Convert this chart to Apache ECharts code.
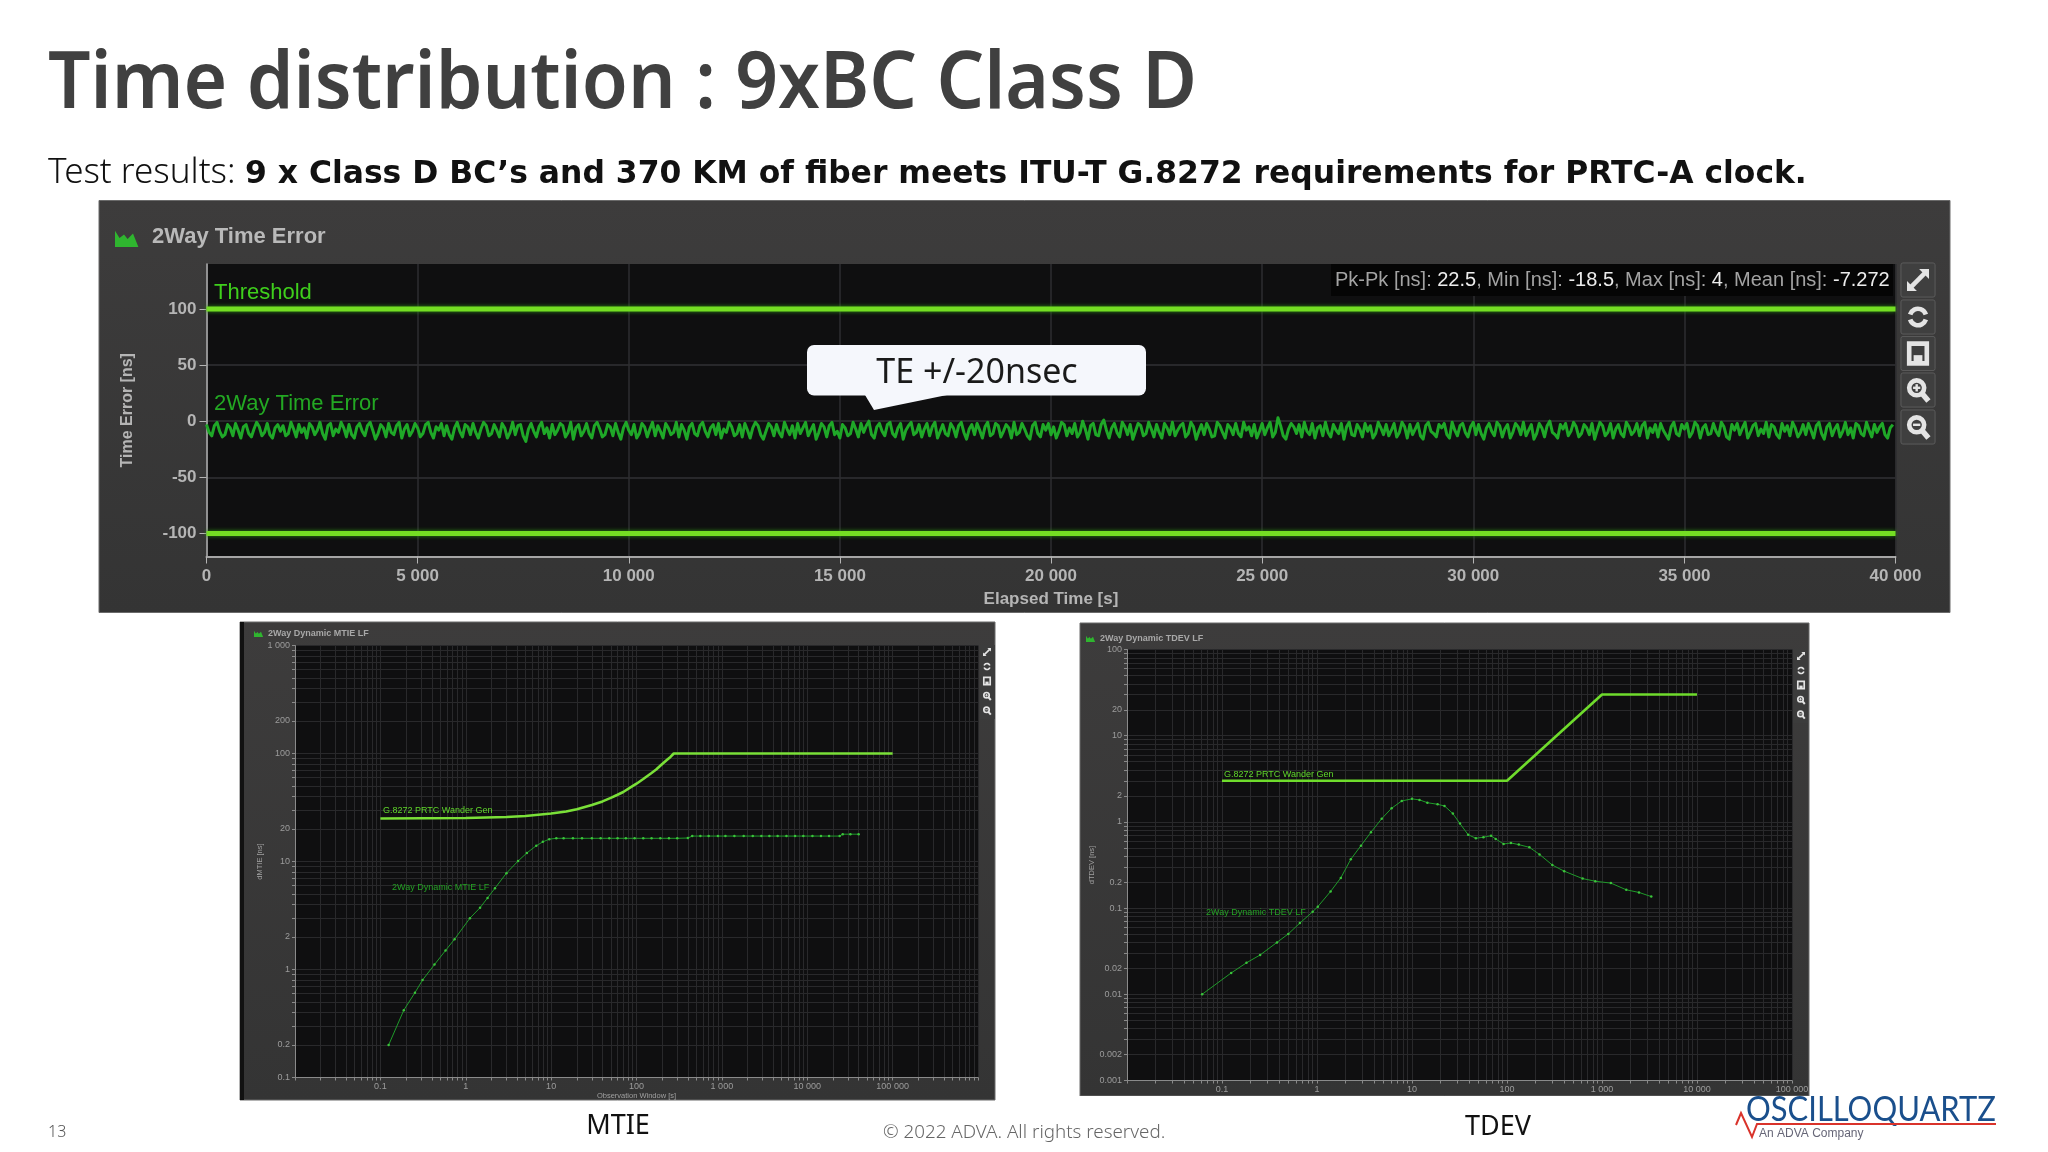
<!DOCTYPE html>
<html>
<head>
<meta charset="UTF-8">
<title>Time distribution : 9xBC Class D</title>
<script src="https://cdn.jsdelivr.net/npm/echarts@6/dist/echarts.min.js"></script>
<style>
html, body { margin: 0; padding: 0; background: #fff; }
#main { width: 2048px; height: 1152px; }
</style>
</head>
<body>
<div id="main"></div>
<script>
// 2Way Time Error, one value every 62.5 s
var teStep = 62.5;
var teValues = [
-3,-10,-13,-4,-1,-9,-14,-12,-3,-6,-13,-2,-8,-15,-5,-3,-11,-14,-7,-1,-5,-13,-10,-2,-12,-15,-6,-3,-9,-4,-13,-11,-1,-7,-14,-3,-10,-6,-15,-2,
-5,-12,-8,-1,-11,-16,-4,-2,-13,-7,-10,-1,-6,-14,-3,-12,-15,-5,-2,-9,-13,-4,-1,-8,-16,-11,-3,-6,-14,-2,-10,-12,-4,-1,-15,-7,-3,-13,-9,-2,
-6,-14,-11,-3,-1,-10,-15,-5,-8,-2,-13,-4,-12,-16,-6,-1,-9,-14,-3,-5,-12,-2,-10,-15,-7,-1,-4,-13,-11,-3,-8,-14,-2,-6,-15,-10,-1,-12,-4,-3,
-13,-18,-7,-2,-9,-14,-5,-1,-11,-6,-15,-3,-12,-8,-2,-4,-14,-10,-1,-16,-6,-3,-13,-9,-2,-11,-15,-4,-1,-7,-14,-12,-3,-5,-13,-2,-10,-16,-6,-1,
-8,-12,-3,-15,-11,-2,-5,-14,-7,-1,-13,-4,-9,-15,-2,-6,-12,-10,-1,-14,-3,-8,-16,-5,-2,-11,-13,-4,-1,-9,-14,-6,-3,-12,-2,-15,-7,-10,-1,-5,
-13,-11,-3,-14,-2,-8,-15,-6,-1,-4,-12,-16,-9,-2,-5,-13,-3,-10,-14,-1,-7,-12,-4,-15,-2,-11,-6,-1,-13,-8,-3,-16,-10,-2,-5,-14,-4,-1,-12,-9,
-15,-3,-6,-13,-11,-1,-7,-14,-2,-10,-4,0,-12,-15,-5,-2,-9,-13,-3,-1,-11,-14,-6,-2,-16,-8,-4,-1,-12,-10,-3,-14,-7,-2,-13,-5,-1,-15,-9,-3,
-11,-13,-2,-6,-14,-4,-1,-10,-16,-7,-3,-12,-2,-8,-15,-5,-1,-13,-11,-2,-4,-14,-9,-3,-6,-15,-1,-12,-10,-2,-7,-13,-16,-4,-1,-11,-14,-3,-8,-2,
-12,-5,-15,-9,-1,-3,-13,-6,-11,-2,-14,-10,0,-7,-16,-4,-2,-12,-13,-3,1,-8,-15,-6,-2,-10,-14,-1,-5,-12,-3,-16,-9,-2,-4,-13,-11,-1,-7,-14,
-3,-10,-15,-2,-6,-12,-1,-13,-8,-4,-2,-14,-11,-1,-5,-16,-9,-3,-12,-2,-7,-14,-13,-1,-4,-10,-15,-3,-6,-12,-2,-11,-14,-1,-8,-5,-13,-3,-15,-9,
-2,-12,-6,-1,-14,-10,3,-4,-13,-16,-7,-2,-5,-11,-3,-14,-1,-9,-12,-2,-15,-6,-4,-13,-1,-10,-14,-3,-8,-11,-2,-16,-5,-1,-12,-13,-3,-7,-14,-2,
-9,-4,-15,-11,-1,-6,-12,-3,-13,-8,-2,-14,-10,-1,-5,-15,-3,-12,-7,-2,-13,-16,-4,-1,-9,-11,-14,-3,-6,-2,-12,-15,-1,-8,-13,-4,-2,-10,-14,-5,
-1,-12,-3,-11,-16,-6,-2,-9,-13,-1,-4,-14,-7,-3,-15,-10,-2,-5,-12,-1,-13,-8,-3,-16,-11,-2,-6,-14,-4,0,-10,-12,-15,-3,-7,-2,-13,-9,-1,-5,
-14,-11,-3,-6,-12,-2,-16,-8,-1,-4,-13,-10,-2,-15,-7,-3,-11,-14,-1,-5,-12,-9,-2,-13,-4,-1,-15,-6,-10,-3,-14,-2,-8,-12,-16,-5,-1,-11,-13,-3,
-7,-2,-14,-10,-1,-4,-15,-6,-3,-12,-11,-2,-9,-13,-1,-5,-14,-16,-3,-8,-2,-12,-6,-1,-15,-10,-4,-2,-13,-7,-11,-1,-14,-3,-5,-12,-15,-2,-9,-4,
-13,-1,-6,-14,-10,-3,-12,-2,-8,-15,-4,-1,-11,-16,-5,-2,-13,-7,-3,-14,-9,-1,-12,-6,-15,-2,-4,-11,-13,-1,-8,-14,-3,-10,-5,-2,-12,-15,-6,-3
];
var teUpper = [[0, 100], [40000, 100]];
var teLower = [[0, -100], [40000, -100]];
var teValueLabels = [-100, -50, 0, 50, 100];

// MTIE, [observation window, ns]
var mtieMask = [[0.1, 25], [1, 25.3], [3, 25.8], [5, 26.4], [10, 27.8], [15, 29], [20, 30.5], [30, 33.3], [40, 36], [50, 38.8], [60, 41.5], [70, 44], [85, 48.5], [100, 52.5], [120, 58], [150, 66], [170, 71], [200, 80], [230, 88], [250, 93], [273, 100], [100000, 100]];
var mtieMeasured = [[0.125, 0.2], [0.188, 0.42], [0.254, 0.61], [0.312, 0.8], [0.43, 1.11], [0.58, 1.5], [0.74, 1.91], [1.12, 2.99], [1.47, 3.73], [1.8, 4.6], [2.2, 5.66], [3, 7.8], [4.1, 10.1], [5.2, 12], [6.7, 14], [8, 15.2], [9.5, 16.1], [11.5, 16.4], [14, 16.4], [18, 16.4], [23, 16.4], [30, 16.4], [38, 16.4], [48, 16.4], [60, 16.4], [75, 16.4], [95, 16.4], [120, 16.4], [150, 16.4], [190, 16.4], [240, 16.4], [300, 16.4], [400, 16.5], [450, 17.2], [560, 17.2], [700, 17.2], [900, 17.2], [1100, 17.2], [1400, 17.2], [1800, 17.2], [2300, 17.2], [2900, 17.2], [3600, 17.2], [4500, 17.2], [5700, 17.2], [7200, 17.2], [9000, 17.2], [11500, 17.2], [14500, 17.2], [18000, 17.2], [24000, 17.2], [26000, 17.9], [32000, 17.9], [40000, 17.9]];
var mtieValueLabels = [0.1, 0.2, 1, 2, 10, 20, 100, 200, 1000];
var mtieWindowLabels = [0.1, 1, 10, 100, 1000, 10000, 100000];

// TDEV, [observation window, ns]
var tdevMask = [[0.1, 3], [100, 3], [1000, 30], [10000, 30]];
var tdevMeasured = [[0.0618, 0.01], [0.125, 0.0177], [0.181, 0.0232], [0.252, 0.0286], [0.379, 0.04], [0.499, 0.0502], [0.66, 0.067], [0.9, 0.0906], [1.02, 0.104], [1.39, 0.156], [1.78, 0.224], [2.27, 0.369], [2.9, 0.53], [3.7, 0.76], [4.8, 1.09], [6.1, 1.44], [7.8, 1.75], [10, 1.85], [12, 1.8], [14.5, 1.67], [18.6, 1.6], [22, 1.53], [26.9, 1.25], [32, 0.955], [39, 0.71], [47, 0.646], [56.5, 0.665], [68, 0.69], [76, 0.635], [92, 0.554], [110, 0.57], [133, 0.545], [172, 0.507], [220, 0.42], [300, 0.316], [400, 0.268], [625, 0.22], [850, 0.205], [1240, 0.195], [1800, 0.163], [2450, 0.152], [3300, 0.136]];
var tdevValueLabels = [0.001, 0.002, 0.01, 0.02, 0.1, 0.2, 1, 2, 10, 20, 100];
var tdevWindowLabels = [0.1, 1, 10, 100, 1000, 10000, 100000];

var teSeries = teValues.map(function (v, i) { return [i * teStep, v]; });

// minor decade lines for the log axes
function decades(from, to) {
	var out = [];
	for (var e = from; e < to; e++) {
		for (var m = 1; m < 10; m++) {
			out.push(Number((m * Math.pow(10, e)).toPrecision(2)));
		}
	}
	out.push(Math.pow(10, to));
	return out;
}
function spaced(v) {
	return String(v).replace(/\B(?=(\d{3})+(?!\d))/g, ' ');
}
function logAxis(min, max, fromExp, toExp, labels, labelSize, name, nameGap, pos, gridIndex) {
	return {
		type: 'log', logBase: 10, min: min, max: max, gridIndex: gridIndex, position: pos,
		name: name, nameLocation: 'middle', nameGap: nameGap,
		nameTextStyle: { color: '#a0a0a0', fontSize: 7.5, fontFamily: 'Liberation Sans' },
		axisLine: { onZero: false, lineStyle: { color: '#8a8a8a', width: 1 } },
		axisTick: { show: true, length: 3, customValues: decades(fromExp, toExp), lineStyle: { color: '#8a8a8a' } },
		axisLabel: {
			customValues: labels, color: '#9c9c9c', fontSize: labelSize, fontFamily: 'Liberation Sans', margin: 5,
			hideOverlap: false, showMinLabel: true, showMaxLabel: true,
			formatter: function (v) { return v >= 1000 ? spaced(v) : String(v); }
		},
		splitLine: { show: true, lineStyle: { color: '#29292b', width: 1 } },
		minorTick: { show: false }, minorSplitLine: { show: false }
	};
}

function panel(x, y, w, h) {
	return { type: 'rect', z: -10, shape: { x: x, y: y, width: w, height: h },
		style: { fill: new echarts.graphic.LinearGradient(0, 0, 0, 1, [{ offset: 0, color: '#3d3c3c' }, { offset: 1, color: '#343434' }]), stroke: '#6a6a6a', lineWidth: 1 } };
}
function label(x, y, text, size, color, extra) {
	var st = { x: x, y: y, text: text, fontSize: size, fill: color, fontFamily: 'Liberation Sans', verticalAlign: 'middle', align: 'left' };
	for (var k in extra) { st[k] = extra[k]; }
	return { type: 'text', z: 20, style: st };
}
// page text that has to be squeezed to the width of the original font
function squeezed(x, y, sx, text, size, weight, color, family) {
	return { type: 'text', z: 60, x: x, y: y, scaleX: sx, style: { x: 0, y: 0, text: text, fontSize: size, fontWeight: weight, fill: color, fontFamily: family, verticalAlign: 'middle' } };
}
// small area icon next to the panel titles
function chartIcon(x, y, s) {
	return { type: 'polygon', z: 20, shape: { points: [[x, y + s], [x, y + 0.1 * s], [x + 0.25 * s, y + 0.5 * s], [x + 0.5 * s, y + 0.3 * s], [x + 0.7 * s, y + 0.55 * s], [x + s, y + 0.25 * s], [x + 1.3 * s, y + s]] }, style: { fill: '#2fb52f' } };
}
// the five tool buttons: expand, refresh, save, zoom in, zoom out
function toolIcons(cx, ys, s, boxed) {
	var out = [];
	ys.forEach(function (cy, i) {
		if (boxed) {
			out.push({ type: 'rect', z: 15, shape: { x: cx - s * 1.55, y: cy - s * 1.55, width: s * 3.1, height: s * 3.1, r: 2 }, style: { fill: '#3f3f3f', stroke: '#5c5c5c', lineWidth: 1 } });
		}
		var st = { stroke: '#e4e4e4', fill: 'none', lineWidth: s * 0.42 };
		if (i === 0) {
			out.push({ type: 'line', z: 20, shape: { x1: cx - s * 0.8, y1: cy + s * 0.8, x2: cx + s * 0.8, y2: cy - s * 0.8 }, style: st });
			out.push({ type: 'polygon', z: 20, shape: { points: [[cx + s, cy - s], [cx + s * 0.1, cy - s], [cx + s, cy - s * 0.1]] }, style: { fill: '#e4e4e4' } });
			out.push({ type: 'polygon', z: 20, shape: { points: [[cx - s, cy + s], [cx - s * 0.1, cy + s], [cx - s, cy + s * 0.1]] }, style: { fill: '#e4e4e4' } });
		} else if (i === 1) {
			out.push({ type: 'arc', z: 20, shape: { cx: cx, cy: cy, r: s * 0.75, startAngle: Math.PI * 1.1, endAngle: Math.PI * 1.9 }, style: st });
			out.push({ type: 'arc', z: 20, shape: { cx: cx, cy: cy, r: s * 0.75, startAngle: Math.PI * 0.1, endAngle: Math.PI * 0.9 }, style: st });
		} else if (i === 2) {
			out.push({ type: 'rect', z: 20, shape: { x: cx - s * 0.8, y: cy - s * 0.9, width: s * 1.6, height: s * 1.8 }, style: st });
			out.push({ type: 'rect', z: 20, shape: { x: cx - s * 0.4, y: cy + s * 0.15, width: s * 0.8, height: s * 0.7 }, style: { fill: '#e4e4e4' } });
		} else {
			out.push({ type: 'circle', z: 20, shape: { cx: cx - s * 0.12, cy: cy - s * 0.2, r: s * 0.68 }, style: st });
			out.push({ type: 'line', z: 20, shape: { x1: cx + s * 0.35, y1: cy + s * 0.3, x2: cx + s * 0.95, y2: cy + s }, style: { stroke: '#e4e4e4', lineWidth: s * 0.5 } });
			out.push({ type: 'line', z: 20, shape: { x1: cx - s * 0.45, y1: cy - s * 0.2, x2: cx + s * 0.21, y2: cy - s * 0.2 }, style: { stroke: '#e4e4e4', lineWidth: s * 0.22 } });
			if (i === 3) {
				out.push({ type: 'line', z: 20, shape: { x1: cx - s * 0.12, y1: cy - s * 0.53, x2: cx - s * 0.12, y2: cy + s * 0.13 }, style: { stroke: '#e4e4e4', lineWidth: s * 0.22 } });
			}
		}
	});
	return out;
}

var graphics = [
	panel(99, 200.5, 1851, 412),
	panel(240, 622, 755, 478),
	panel(1080, 623, 729, 473),
	{ type: 'rect', z: -9, shape: { x: 240, y: 622, width: 4, height: 478 }, style: { fill: '#111' } },
	chartIcon(115, 229, 18),
	label(152, 237, '2Way Time Error', 22, '#b9b9b9', { fontWeight: 'bold' }),
	label(214, 293, 'Threshold', 22, '#3fcf1c'),
	label(214, 404, '2Way Time Error', 22, '#23a823'),
	{ type: 'rect', z: 15, shape: { x: 1331, y: 264, width: 562, height: 32 }, style: { fill: '#050505' } },
	{ type: 'text', z: 20, style: {
		x: 1335, y: 280, verticalAlign: 'middle', fontFamily: 'Liberation Sans', fontSize: 20,
		rich: { k: { fill: '#a3a3a3', fontSize: 20, fontFamily: 'Liberation Sans' }, v: { fill: '#ececec', fontSize: 20, fontFamily: 'Liberation Sans' } },
		text: '{k|Pk-Pk [ns]:} {v|22.5}{k|, Min [ns]:} {v|-18.5}{k|, Max [ns]:} {v|4}{k|, Mean [ns]:} {v|-7.272}'
	} },
	// callout over the trace
	{ type: 'rect', z: 30, shape: { x: 807, y: 345, width: 339, height: 50.5, r: 7 }, style: { fill: '#f5f7fc' } },
	{ type: 'polygon', z: 30, shape: { points: [[865, 395], [874, 410], [947, 395]] }, style: { fill: '#f5f7fc' } },
	{ type: 'text', z: 31, style: { x: 977, y: 373.5, text: 'TE +/-20nsec', fontSize: 34, fill: '#1a1a1a', fontFamily: 'Noto Sans', align: 'center', verticalAlign: 'middle' } },
	// small panels
	chartIcon(254, 630, 7),
	label(268, 634, '2Way Dynamic MTIE LF', 9, '#a8a8a8', { fontWeight: 'bold' }),
	label(383, 811, 'G.8272 PRTC Wander Gen', 9, '#5fd62a'),
	label(392, 888, '2Way Dynamic MTIE LF', 9, '#24a024'),
	chartIcon(1086, 635, 7),
	label(1100, 639, '2Way Dynamic TDEV LF', 9, '#a8a8a8', { fontWeight: 'bold' }),
	label(1224, 775, 'G.8272 PRTC Wander Gen', 9, '#5fd62a'),
	label(1206, 913, '2Way Dynamic TDEV LF', 9, '#24a024'),
	{ type: 'rect', z: 10, shape: { x: 980, y: 645, width: 15, height: 74 }, style: { fill: '#3c3c3c' } },
	{ type: 'rect', z: 10, shape: { x: 1793, y: 649, width: 15, height: 74 }, style: { fill: '#3c3c3c' } },
	// cuts the clipped axis name under the TDEV panel
	{ type: 'rect', z: 50, shape: { x: 1080, y: 1096, width: 730, height: 12 }, style: { fill: '#fff' } },
	// page text
	squeezed(48, 85, 0.947, 'Time distribution : 9xBC Class D', 79, 600, '#404040', 'Noto Sans'),
	squeezed(48, 173, 1, 'Test results:', 35, 300, '#111', 'Noto Sans'),
	squeezed(245, 175, 1, '9 x Class D BC’s and 370 KM of fiber meets ITU-T G.8272 requirements for PRTC-A clock.', 31.4, 'bold', '#111', 'DejaVu Sans'),
	squeezed(48, 1132, 1, '13', 16, 300, '#555', 'Noto Sans'),
	{ type: 'text', z: 60, style: { x: 618, y: 1126, text: 'MTIE', fontSize: 27, fill: '#111', fontFamily: 'Noto Sans', align: 'center', verticalAlign: 'middle' } },
	{ type: 'text', z: 60, style: { x: 1498, y: 1127, text: 'TDEV', fontSize: 27, fill: '#111', fontFamily: 'Noto Sans', align: 'center', verticalAlign: 'middle' } },
	squeezed(883, 1133, 1, '© 2022 ADVA. All rights reserved.', 18.8, 300, '#666', 'Noto Sans'),
	// logo
	squeezed(1746, 1110, 0.884, 'OSCILLOQUARTZ', 35, 'normal', '#1a4f8c', 'Lato'),
	{ type: 'polyline', z: 60, shape: { points: [[1736, 1125], [1741, 1113], [1752, 1137], [1757, 1124], [1996, 1124]] }, style: { stroke: '#d9332b', lineWidth: 2, fill: 'none' } },
	{ type: 'text', z: 60, style: { x: 1759, y: 1134, text: 'An ADVA Company', fontSize: 12, fill: '#667', fontFamily: 'Liberation Sans', verticalAlign: 'middle' } }
];
graphics = graphics
	.concat(toolIcons(1918, [280, 317, 353.5, 390, 427], 11, true))
	.concat(toolIcons(987, [652, 666.5, 681, 696, 710.6], 4, false))
	.concat(toolIcons(1801, [656, 670.5, 685, 700, 714.7], 4, false));

var chart = echarts.init(document.getElementById('main'), null, { renderer: 'canvas' });
chart.setOption({
	animation: false,
	backgroundColor: '#fff',
	grid: [
		{ left: 206.5, width: 1689, top: 264, height: 292.5, show: true, backgroundColor: '#0f0f10', borderWidth: 0 },
		{ left: 295, width: 683, top: 645.5, height: 432, show: true, backgroundColor: '#0f0f10', borderWidth: 0 },
		{ left: 1127, width: 665, top: 649.5, height: 431, show: true, backgroundColor: '#0f0f10', borderWidth: 0 }
	],
	xAxis: [
		{
			type: 'value', gridIndex: 0, min: 0, max: 40000, interval: 5000,
			name: 'Elapsed Time [s]', nameLocation: 'middle', nameGap: 34,
			nameTextStyle: { color: '#b5b5b5', fontSize: 17, fontWeight: 'bold', fontFamily: 'Liberation Sans' },
			axisLine: { onZero: false, lineStyle: { color: '#a5a5a5', width: 2 } },
			axisTick: { show: true, length: 7, lineStyle: { color: '#b5b5b5' } },
			axisLabel: { color: '#b5b5b5', fontSize: 17, fontWeight: 'bold', fontFamily: 'Liberation Sans', margin: 11, showMaxLabel: true, formatter: spaced },
			splitLine: { show: true, lineStyle: { color: '#2e2e30', width: 1.5 } }
		},
		logAxis(0.01, 1000000, -2, 6, mtieWindowLabels, 9, 'Observation Window [s]', 12, 'bottom', 1),
		logAxis(0.01, 100000, -2, 5, tdevWindowLabels, 9, 'Observation Window [s]', 15, 'bottom', 2)
	],
	yAxis: [
		{
			type: 'value', gridIndex: 0, min: -120.5, max: 140,
			name: 'Time Error [ns]', nameLocation: 'middle', nameGap: 71,
			nameTextStyle: { color: '#b5b5b5', fontSize: 16, fontWeight: 'bold', fontFamily: 'Liberation Sans' },
			axisLine: { onZero: false, show: true, lineStyle: { color: '#b5b5b5', width: 1.5 } },
			axisTick: { show: true, length: 7, customValues: teValueLabels, lineStyle: { color: '#b5b5b5' } },
			axisLabel: { customValues: teValueLabels, color: '#b5b5b5', fontSize: 17, fontWeight: 'bold', fontFamily: 'Liberation Sans', margin: 10 },
			splitLine: { show: true, lineStyle: { color: '#323234', width: 1.5 } }
		},
		logAxis(0.1, 1000, -1, 3, mtieValueLabels, 9, 'dMTIE [ns]', 31, 'left', 1),
		logAxis(0.001, 100, -3, 2, tdevValueLabels, 9, 'dTDEV [ns]', 31, 'left', 2)
	],
	series: [
		{ name: 'Threshold', type: 'line', xAxisIndex: 0, yAxisIndex: 0, data: teUpper, showSymbol: false, silent: true, z: 4,
			lineStyle: { color: '#74de23', width: 5, shadowColor: '#2c8a12', shadowBlur: 4 } },
		{ name: 'Threshold low', type: 'line', xAxisIndex: 0, yAxisIndex: 0, data: teLower, showSymbol: false, silent: true, z: 4,
			lineStyle: { color: '#74de23', width: 5, shadowColor: '#2c8a12', shadowBlur: 4 } },
		{ name: '2Way Time Error', type: 'line', xAxisIndex: 0, yAxisIndex: 0, data: teSeries, showSymbol: false, silent: true, z: 3,
			lineStyle: { color: '#1fa828', width: 3, join: 'round' } },
		{ name: 'G.8272 PRTC Wander Gen', type: 'line', xAxisIndex: 1, yAxisIndex: 1, data: mtieMask, showSymbol: false,
			lineStyle: { color: '#7ae038', width: 2.6 } },
		{ name: '2Way Dynamic MTIE LF', type: 'line', xAxisIndex: 1, yAxisIndex: 1, data: mtieMeasured, symbol: 'circle', symbolSize: 2.5, showAllSymbol: true,
			itemStyle: { color: '#3bc43b' }, lineStyle: { color: '#1f9a2a', width: 1 } },
		{ name: 'G.8272 PRTC Wander Gen TDEV', type: 'line', xAxisIndex: 2, yAxisIndex: 2, data: tdevMask, showSymbol: false,
			lineStyle: { color: '#6fdc2c', width: 2.6 } },
		{ name: '2Way Dynamic TDEV LF', type: 'line', xAxisIndex: 2, yAxisIndex: 2, data: tdevMeasured, symbol: 'circle', symbolSize: 2.5, showAllSymbol: true,
			itemStyle: { color: '#3bc43b' }, lineStyle: { color: '#1f9a2a', width: 1 } }
	],
	graphic: { elements: graphics }
});
</script>
</body>
</html>
